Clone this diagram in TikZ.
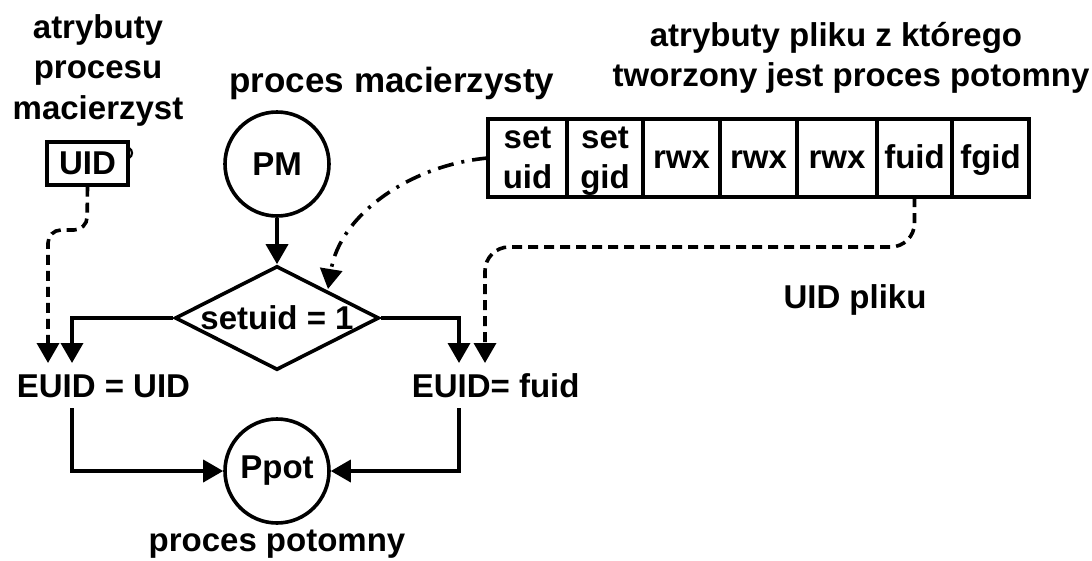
\documentclass[tikz,border=0pt]{standalone}
\usepackage{fontspec}
\setmainfont{Liberation Sans}
\usetikzlibrary{arrows.meta,shapes.geometric}
\begin{document}
\begin{tikzpicture}[x=1pt,y=-1pt,line width=3.6pt,
  txt/.style={font=\fontsize{33}{40}\selectfont\bfseries,inner sep=0pt,align=center},
  arr/.style={-{Triangle[length=20pt,width=22pt]}},
  dsh/.style={dash pattern=on 10pt off 6pt},
  ddot/.style={dash pattern=on 16pt off 8pt on 3pt off 8pt},
  cell/.style={draw,txt,minimum height=78pt,outer sep=0pt,anchor=west,line width=3.6pt},
  one/.style={text height=22pt,text depth=2pt},
  circ/.style={draw,circle,txt,line width=3.6pt}]
\useasboundingbox (0,0) rectangle (1092,560);
% texts
\node[txt,anchor=base] (at1) at (98,38) {atrybuty};
\node[txt,anchor=base] (at2) at (98,78.5) {procesu};
\node[txt,anchor=base] (at3) at (98,119) {macierzyst};
\node[txt,anchor=base,font=\fontsize{35}{40}\selectfont\bfseries] (pmtxt) at (392,92) {proces macierzysty};
\node[txt,anchor=base] (ft1) at (836,46) {atrybuty pliku z którego};
\node[txt,anchor=base] (ft2) at (851,86) {tworzony jest proces potomny};
\node[txt,anchor=base] (uidpl) at (855,308) {UID pliku};
\node[txt,anchor=base] (pptxt) at (277,551) {proces potomny};
% UID box
\node[draw,txt,minimum width=81pt,minimum height=43pt,line width=3.3pt] (uid) at (87.5,163.5) {UID};
\draw[line width=2.2pt] (129,148) .. controls (133,150) and (133,156) .. (129,158);
% circles and diamond
\node[circ,minimum size=104pt] (pm) at (277,164) {PM};
\node[draw,diamond,txt,aspect=2,minimum width=204pt,minimum height=104pt] (dia) at (277,318) {setuid = 1};
\node[circ,minimum size=104pt] (pp) at (277,471) {Ppot};
% EUID texts
\node[txt,anchor=base west] (e1) at (15,397) {EUID = UID};
\node[txt,anchor=base west] (e2) at (410,397) {EUID= fuid};
% table
\node[cell,minimum width=79pt] (c1) at (488,158) {set\\uid};
\node[cell,minimum width=76pt] (c2) at (c1.east) {set\\\smash{g}id};
\node[cell,one,minimum width=77pt] (c3) at (c2.east) {rwx};
\node[cell,one,minimum width=77pt] (c4) at (c3.east) {rwx};
\node[cell,one,minimum width=80pt] (c5) at (c4.east) {rwx};
\node[cell,one,minimum width=75pt] (c6) at (c5.east) {fuid};
\node[cell,one,minimum width=77pt] (c7) at (c6.east) {fgid};
% coordinates
\coordinate (a0) at (48,363);
\coordinate (a1) at (72,363);
\coordinate (a2) at (459,363);
\coordinate (a3) at (485,363);
\coordinate (b1) at (72,408);
\coordinate (b2) at (459,408);
\coordinate (dt) at (328,289);
% connectors
\draw[arr] (pm) -- (dia.north);
\draw[arr] (dia.west) -| (a1);
\draw[arr] (dia.east) -| (a2);
\draw[arr,dsh,rounded corners=13pt] (uid.south) -- (87,230) -- (48,230) -- (a0);
\draw[arr,dsh,rounded corners=24pt] (c6.south) -- (914.5,247) -- (485,247) -- (a3);
\draw[arr,ddot] (c1.west) .. controls (410,165) and (340,215) .. (dt);
\draw[arr] (b1) |- (pp.west);
\draw[arr] (b2) |- (pp.east);
\end{tikzpicture}
\end{document}
